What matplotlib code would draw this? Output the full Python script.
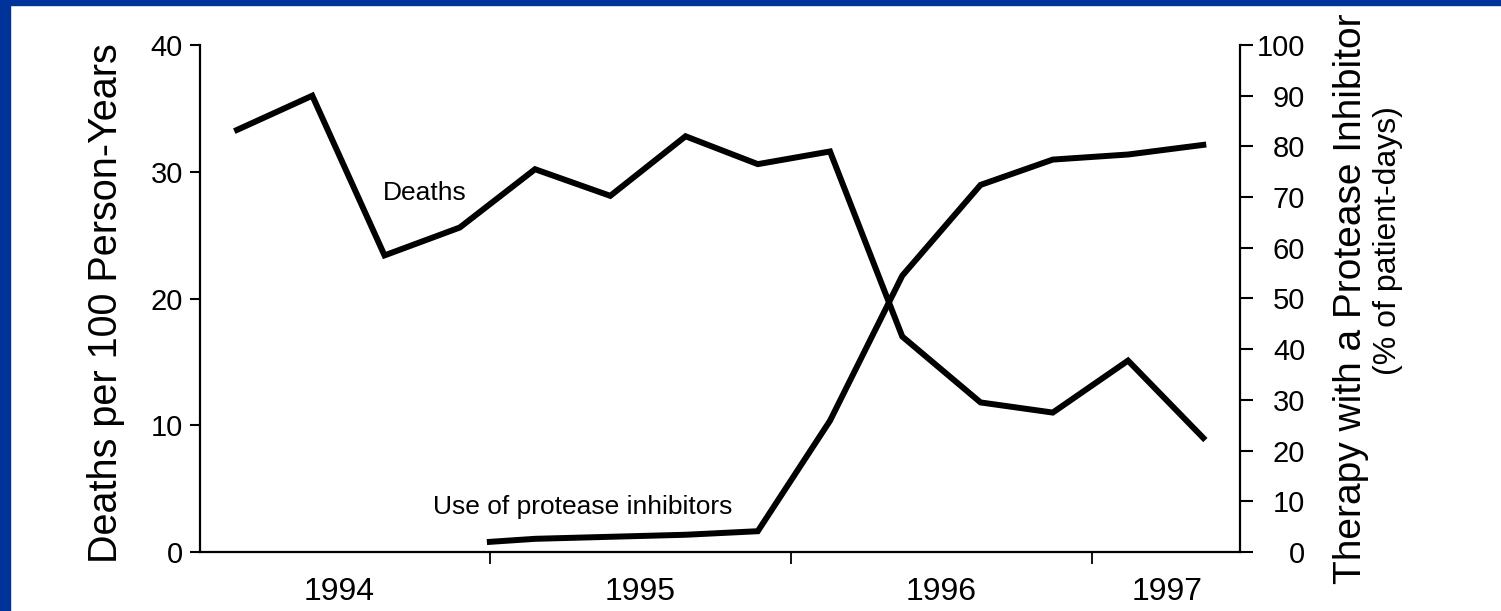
import matplotlib.pyplot as plt
from matplotlib.patches import Rectangle

plt.rcParams['font.family'] = ['Liberation Sans', 'DejaVu Sans']

# quarterly points, x in decimal years
quarter_x = [1994.16, 1994.41, 1994.65, 1994.90, 1995.15, 1995.40, 1995.65,
             1995.89, 1996.13, 1996.37, 1996.63, 1996.87, 1997.12, 1997.37]
deaths = [33.3, 36.0, 23.4, 25.6, 30.2, 28.1, 32.8,
          30.6, 31.6, 17.0, 11.8, 11.0, 15.1, 9.0]

pi_x = [1995.0, 1995.15, 1995.40, 1995.65, 1995.89, 1996.13,
        1996.37, 1996.63, 1996.87, 1997.12, 1997.37]
pi_use = [2.0, 2.6, 3.0, 3.4, 4.1, 25.9, 54.5, 72.4, 77.4, 78.4, 80.3]

year_ticks = [1995, 1996, 1997]
year_label_pos = [1994.5, 1995.5, 1996.5, 1997.25]
year_labels = ['1994', '1995', '1996', '1997']

W, H = 1501, 611
fig = plt.figure(figsize=(W / 100, H / 100), dpi=100)
fig.patch.set_facecolor('white')

# blue slide frame (left and top)
fig.add_artist(Rectangle((0, 0), 10 / W, 1, transform=fig.transFigure,
                         color='#003399', zorder=0))
fig.add_artist(Rectangle((0, 1 - 5 / H), 1, 5 / H, transform=fig.transFigure,
                         color='#003399', zorder=0))

ax = fig.add_axes([200 / W, 59 / H, 1040 / W, 507 / H])
ax2 = ax.twinx()

ax.plot(quarter_x, deaths, color='black', lw=4.3, solid_joinstyle='miter')
ax2.plot(pi_x, pi_use, color='black', lw=4.3, solid_joinstyle='miter')

ax.set_xlim(1994.037, 1997.492)
ax.set_ylim(0, 40)
ax2.set_ylim(0, 100)

for a in (ax, ax2):
    a.spines['top'].set_visible(False)
ax.spines['right'].set_visible(False)
ax2.spines['left'].set_visible(False)
ax2.spines['bottom'].set_visible(False)
for s in (ax.spines['left'], ax.spines['bottom'], ax2.spines['right']):
    s.set_linewidth(1.6)

ax.set_yticks([0, 10, 20, 30, 40])
ax.tick_params(axis='y', length=7.2, width=1.5, pad=5, labelsize=21)

ax2.set_yticks(range(0, 101, 10))
ax2.tick_params(axis='y', length=9, width=1.5, pad=38, labelsize=21)
for lab in ax2.get_yticklabels():
    lab.set_horizontalalignment('right')

ax.set_xticks(year_ticks)
ax.set_xticklabels([])
ax.tick_params(axis='x', which='major', length=8.6, width=1.3)
ax.set_xticks(year_label_pos, minor=True)
ax.set_xticklabels(year_labels, minor=True)
ax.tick_params(axis='x', which='minor', length=0, pad=18, labelsize=23)

ax.text(1994.645, 27.8, 'Deaths', fontsize=19, va='baseline')
ax.text(1994.81, 3.0, 'Use of protease inhibitors', fontsize=19, va='baseline')

fig.text(106 / W, 1 - 303 / H, 'Deaths per 100 Person-Years', rotation=90,
         ha='center', va='center', fontsize=28.5)
fig.text(1351 / W, 1 - 299 / H, 'Therapy with a Protease Inhibitor',
         rotation=90, ha='center', va='center', fontsize=28)
fig.text(1388 / W, 1 - 241 / H, '(% of patient-days)', rotation=90,
         ha='center', va='center', fontsize=23)

fig.savefig('out.png', dpi=100)
